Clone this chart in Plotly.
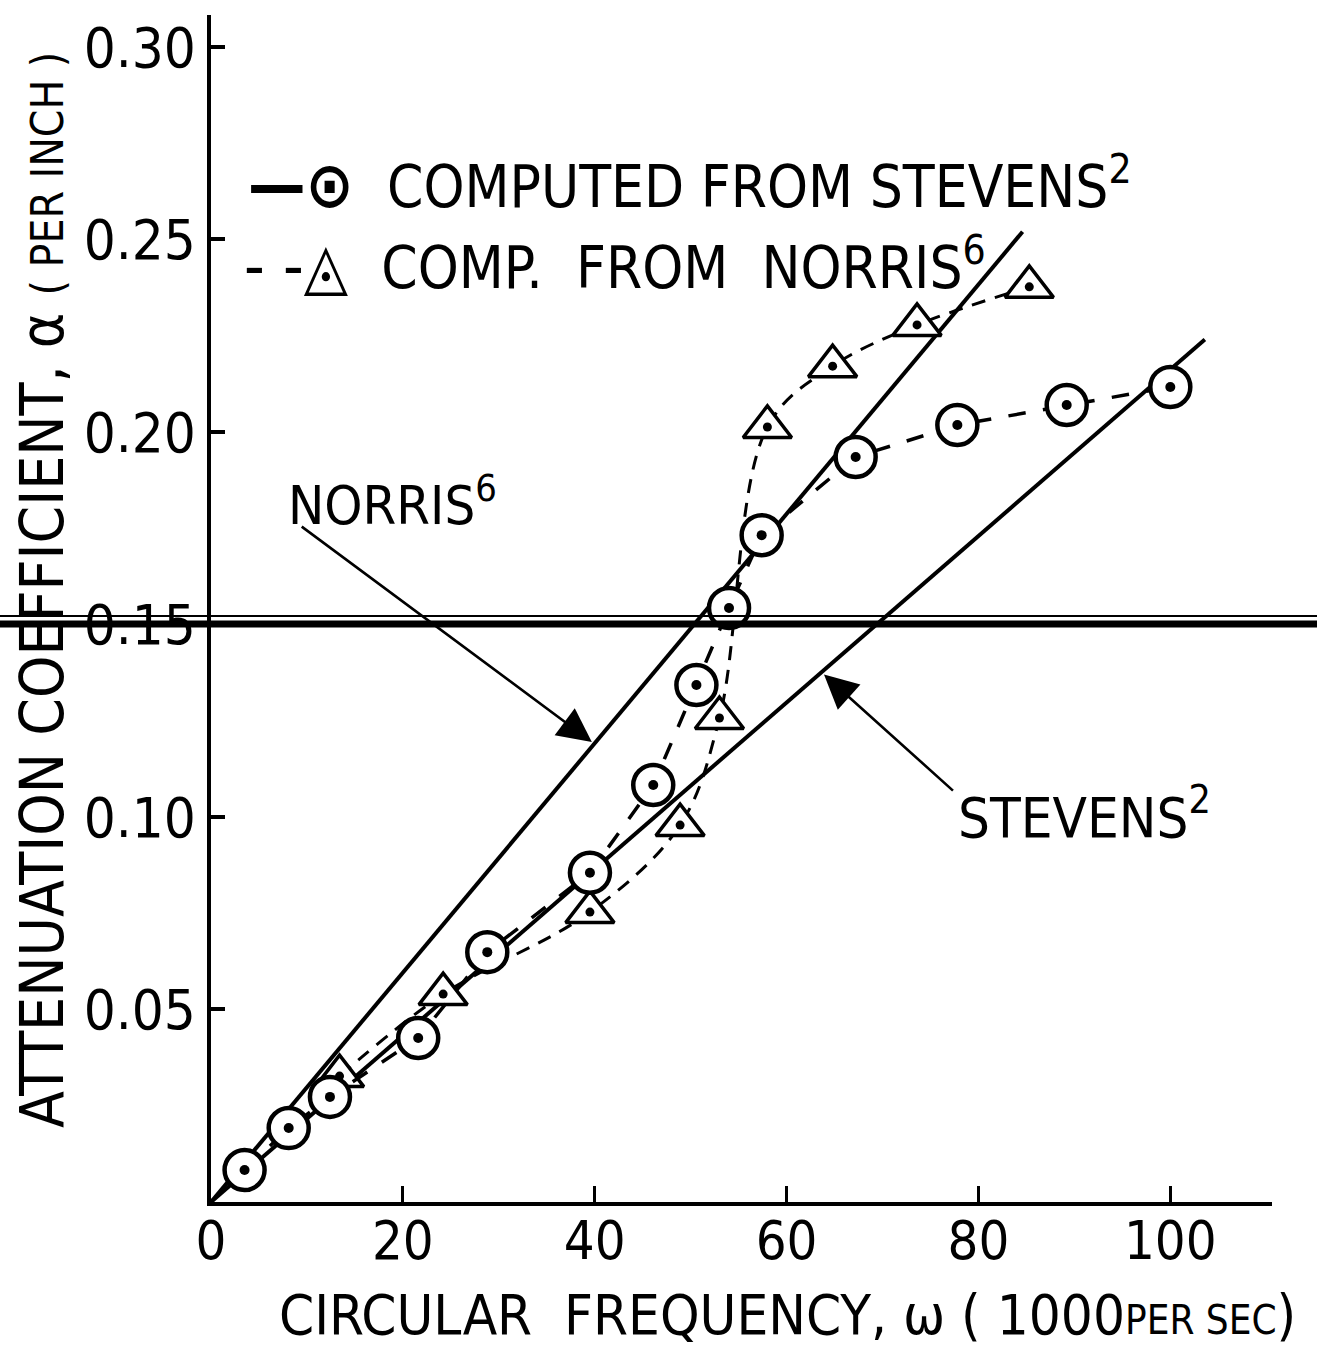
import plotly.graph_objects as go

# ---- data ----
stevens_x = [3.5, 8.1, 12.4, 21.6, 28.8, 39.5, 46.1, 50.6, 54.0, 57.4, 67.2, 77.8, 89.2, 100.0]
stevens_y = [0.0083, 0.0192, 0.0273, 0.0426, 0.0649, 0.0855, 0.1083, 0.1343, 0.1543, 0.1732, 0.1935, 0.2018, 0.2070, 0.2117]

norris_x = [13.4, 24.2, 39.5, 48.9, 53.0, 58.0, 64.8, 73.6, 85.3]
norris_y = [0.0327, 0.054, 0.0753, 0.0979, 0.1257, 0.2013, 0.2171, 0.2278, 0.2377]

norris_line_x = [0, 84.6]
norris_line_y = [0, 0.252]
stevens_line_x = [0, 103.6]
stevens_line_y = [0, 0.224]

x_tickvals = [0, 20, 40, 60, 80, 100]
x_ticktext = ["0", "20", "40", "60", "80", "100"]
y_tickvals = [0.05, 0.10, 0.15, 0.20, 0.25, 0.30]
y_ticktext = ["0.05", "0.10", "0.15", "0.20", "0.25", "0.30"]

FONT = "Liberation Sans Narrow, DejaVu Sans Condensed, Liberation Sans, DejaVu Sans"

fig = go.Figure()

fig.add_trace(go.Scatter(x=norris_line_x, y=norris_line_y, mode="lines",
                         line=dict(color="black", width=4), showlegend=False))
fig.add_trace(go.Scatter(x=stevens_line_x, y=stevens_line_y, mode="lines",
                         line=dict(color="black", width=4), showlegend=False))

fig.add_trace(go.Scatter(x=norris_x, y=norris_y, mode="lines+markers",
                         line=dict(color="black", width=3, dash="14px,10px", shape="spline", smoothing=1.0),
                         marker=dict(symbol="triangle-up", size=42, color="white",
                                     line=dict(color="black", width=3.5)),
                         showlegend=False))
fig.add_trace(go.Scatter(x=norris_x, y=norris_y, mode="markers",
                         marker=dict(symbol="circle", size=9, color="black"),
                         showlegend=False))
fig.add_trace(go.Scatter(x=stevens_x, y=stevens_y, mode="lines+markers",
                         line=dict(color="black", width=3.5, dash="longdash"),
                         marker=dict(symbol="circle", size=40, color="white",
                                     line=dict(color="black", width=4.5)),
                         showlegend=False))
fig.add_trace(go.Scatter(x=stevens_x, y=stevens_y, mode="markers",
                         marker=dict(symbol="circle", size=10, color="black"),
                         showlegend=False))

# scan crease line across the page
fig.add_shape(type="line", xref="paper", yref="y", x0=-0.21, x1=1.05, y0=0.1501, y1=0.1501,
              line=dict(color="black", width=7))
fig.add_shape(type="line", xref="paper", yref="y", x0=-0.21, x1=1.05, y0=0.1522, y1=0.1522,
              line=dict(color="black", width=2))

L, R, T, B = 211, 45, 15, 145
PW, PH = 1317 - L - R, 1347 - T - B

def px2paper(px, py):
    return (px - L) / PW, (1347 - B - py) / PH

ann = []
# legend
lx, ly = px2paper(246, 183)
ann.append(dict(xref="paper", yref="paper", x=lx, y=ly, xanchor="left", yanchor="middle",
                text="<b><span style='font-size:64px'>—⊙</span></b>  COMPUTED FROM STEVENS<sup>2</sup>",
                showarrow=False, font=dict(family=FONT, size=58, color="black")))
lx, ly = px2paper(242, 265)
ann.append(dict(xref="paper", yref="paper", x=lx, y=ly, xanchor="left", yanchor="middle",
                text="<span style='font-size:64px'>- -◬</span>  COMP.  FROM  NORRIS<sup>6</sup>",
                showarrow=False, font=dict(family=FONT, size=58, color="black")))
# curve labels
ann.append(dict(xref="x", yref="y", x=7.8, y=0.182, xanchor="left", yanchor="middle",
                text="NORRIS<sup>6</sup>", showarrow=False,
                font=dict(family=FONT, size=54, color="black")))
ann.append(dict(xref="x", yref="y", x=77.7, y=0.101, xanchor="left", yanchor="middle",
                text="STEVENS<sup>2</sup>", showarrow=False,
                font=dict(family=FONT, size=56, color="black")))
# arrows
ann.append(dict(xref="x", yref="y", axref="x", ayref="y", x=39.7, y=0.1195, ax=9.3, ay=0.1757,
                text="", showarrow=True, arrowhead=2, arrowsize=2.6, arrowwidth=2.6, arrowcolor="black"))
ann.append(dict(xref="x", yref="y", axref="x", ayref="y", x=63.9, y=0.137, ax=77.5, ay=0.1065,
                text="", showarrow=True, arrowhead=2, arrowsize=2.6, arrowwidth=2.6, arrowcolor="black"))
# axis titles
tx, ty = px2paper(42, 590)
ann.append(dict(xref="paper", yref="paper", x=tx, y=ty, xanchor="center", yanchor="middle",
                textangle=-90, showarrow=False,
                text="ATTENUATION COEFFICIENT, α <span style='font-size:44px'>( PER INCH )</span>",
                font=dict(family=FONT, size=60, color="black")))
tx, ty = px2paper(787, 1314)
ann.append(dict(xref="paper", yref="paper", x=tx, y=ty, xanchor="center", yanchor="middle",
                showarrow=False,
                text="CIRCULAR  FREQUENCY, ω ( 1000<span style='font-size:40px'>PER SEC</span>)",
                font=dict(family=FONT, size=56, color="black")))

fig.update_layout(
    width=1317, height=1347,
    margin=dict(l=L, r=R, t=T, b=B),
    paper_bgcolor="white", plot_bgcolor="white",
    annotations=ann,
    showlegend=False,
)
fig.update_xaxes(range=[0, 110.6], showgrid=False, zeroline=False,
                 showline=True, linecolor="black", linewidth=4,
                 tickmode="array", tickvals=x_tickvals, ticktext=x_ticktext,
                 ticks="inside", ticklen=16, tickwidth=3, tickcolor="black",
                 ticklabelstandoff=-12,
                 tickfont=dict(family=FONT, size=54, color="black"))
fig.update_yaxes(range=[0, 0.3083], showgrid=False, zeroline=False,
                 showline=True, linecolor="black", linewidth=4,
                 tickmode="array", tickvals=y_tickvals, ticktext=y_ticktext,
                 ticks="inside", ticklen=14, tickwidth=4, tickcolor="black",
                 tickfont=dict(family=FONT, size=56, color="black"))

fig.write_html("out.html", config={"displayModeBar": False},
               post_script="document.body.style.margin='0';document.body.style.overflow='hidden';")
